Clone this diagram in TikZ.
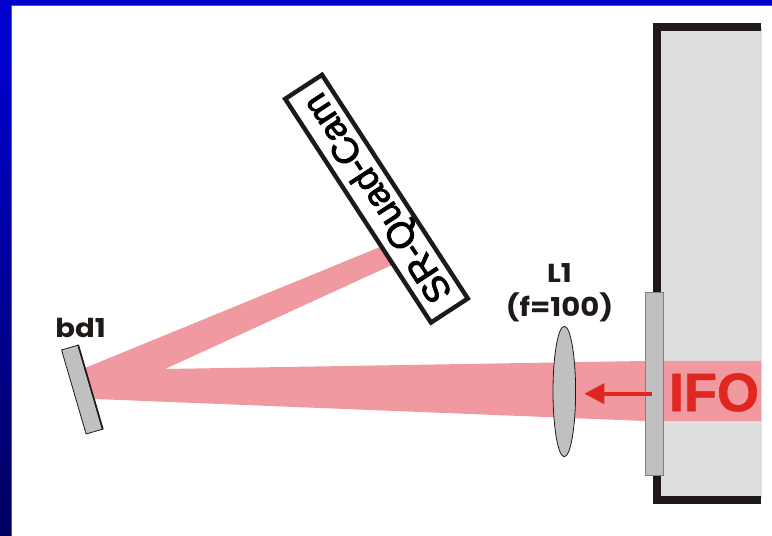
\documentclass[tikz,border=0pt]{standalone}
\usepackage{fontspec}
\setmainfont{Liberation Sans}
\newfontfamily\labelfont[FakeStretch=1.12]{Poppins}
\newfontfamily\camfont[FakeBold=2.5]{Liberation Sans}
\newfontfamily\ifofont[FakeBold=1]{Liberation Sans Bold}
\definecolor{beampink}{RGB}{241, 153, 160}
\definecolor{wallgrey}{RGB}{222, 222, 222}
\definecolor{partgrey}{RGB}{192, 192, 192}
\definecolor{wallblack}{RGB}{31, 26, 23}
\definecolor{ifored}{RGB}{224, 39, 31}
\definecolor{framegrey}{RGB}{90, 90, 110}
\definecolor{frametop}{RGB}{0, 0, 204}
\definecolor{framebottom}{RGB}{0, 0, 96}
\usetikzlibrary{shapes.geometric, arrows.meta, positioning}

\begin{document}
\begin{tikzpicture}[
  x=1pt, y=1pt,
  part/.style={draw=wallblack, fill=partgrey, line width=0.8pt, inner sep=0pt},
  tag/.style={font=\labelfont\bfseries\fontsize{26}{34}\selectfont, text=wallblack, inner sep=0pt, align=center}
]
  \useasboundingbox (0, 0) rectangle (772, 536);
  % frame
  \shade[top color=frametop, bottom color=framebottom] (0, 0) rectangle (11.5, 476);
  \fill[frametop] (0, 476) rectangle (11.5, 536);
  \fill[frametop] (0, 531) rectangle (772, 536);
  \draw[framegrey, line width=0.8pt] (11.8, 0) -- (11.8, 530.6) -- (772, 530.6);
  % interferometer box
  \fill[wallgrey] (657, 38) rectangle (761.7, 509);
  \draw[wallblack, line width=8pt] (761, 509) -- (657, 509) -- (657, 36.3) -- (761, 36.3);
  % beam
  \fill[beampink] (85, 168) -- (380, 289) -- (392, 271) -- (165, 167) -- (645, 175) -- (761, 175) -- (761, 115) -- (645, 115) -- (95, 137) -- cycle;
  % optics
  \node[part, draw=gray, minimum width=17.6pt, minimum height=183pt] (plate) at (654.5, 152.2) {};
  \node[part, ellipse, minimum width=22.6pt, minimum height=130.4pt] (lens) at (564.3, 144.5) {};
  \node[part, minimum width=17pt, minimum height=87.5pt, rotate=16.3] (bdmirror) at (82, 146.4) {};
  \draw[wallblack, line width=1.6pt] (bdmirror.north east) -- (bdmirror.south east);
  \node[draw=wallblack, fill=white, line width=4.4pt, minimum width=267pt, minimum height=44pt, inner sep=0pt, rotate=123.1, font=\camfont\fontsize{36.5}{36.5}\selectfont] (srcam) at (376.5, 337.3) {\raisebox{-3pt}[\height][\depth]{SR-Quad-Cam}};
  % labels
  \node[tag] (bdtag) at (80.5, 208) {bd1};
  \node[tag] (lenstag) at (559.5, 243) {L1\\(f=100)};
  \node[font=\ifofont\fontsize{54}{54}\selectfont, text=ifored, inner sep=0pt] (ifotag) at (714, 143.5) {IFO};
  % arrow
  \coordinate (arrowstart) at (652, 142.3);
  \coordinate (arrowend) at (584.3, 142.3);
  \draw[-{Triangle[length=20pt, width=20pt]}, ifored, line width=3.8pt] (arrowstart) -- (arrowend);
\end{tikzpicture}
\end{document}
